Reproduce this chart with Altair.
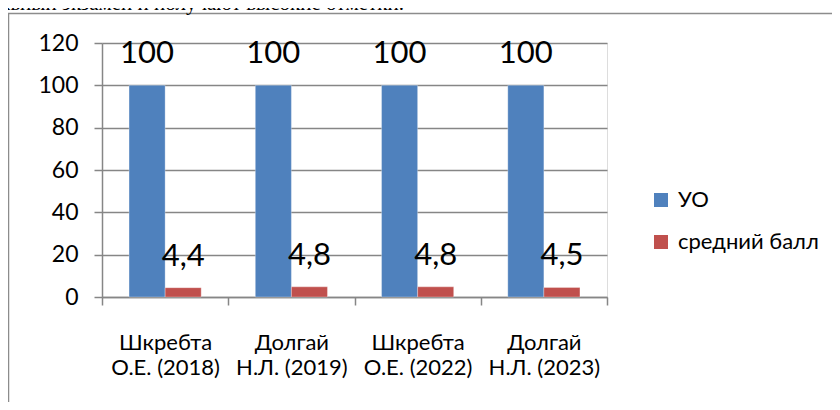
import altair as alt
import pandas as pd

categories = ["Шкребта\nО.Е. (2018)", "Долгай\nН.Л. (2019)", "Шкребта\nО.Е. (2022)", "Долгай\nН.Л. (2023)"]
series = ["УО", "средний балл"]
uo_values = [100, 100, 100, 100]
avg_values = [4.4, 4.8, 4.8, 4.5]
y_ticks = [0, 20, 40, 60, 80, 100, 120]
colors = ["#4F81BD", "#C0504D"]
header_text = "льный экзамен и получают высокие отметки."

rows = []
for c, u, a in zip(categories, uo_values, avg_values):
    rows.append({"category": c, "series": series[0], "value": u, "label": str(u).replace(".", ",")})
    rows.append({"category": c, "series": series[1], "value": a, "label": str(a).replace(".", ",")})
df = pd.DataFrame(rows)

GRID = "#868686"
FONT = "Lato"

x_enc = alt.X(
    "category:N", sort=categories,
    scale=alt.Scale(paddingInner=0, paddingOuter=0),
    axis=alt.Axis(
        title=None, labelExpr="split(datum.label, '\\n')", tickBand="extent",
        labelAngle=0, domainColor=GRID, tickColor=GRID, tickSize=8, domainWidth=1.5, tickWidth=1.5,
        labelFont=FONT, labelFontSize=22, labelColor="black", labelLineHeight=25,
        labelPadding=27, labelBaseline="top", grid=False,
    ),
)
xoff_enc = alt.XOffset("series:N", sort=series, scale=alt.Scale(paddingInner=0, paddingOuter=0.75))
y_enc = alt.Y(
    "value:Q",
    scale=alt.Scale(domain=[0, 120], nice=False, zero=True),
    axis=alt.Axis(
        title=None, values=y_ticks, grid=True, gridColor=GRID, gridWidth=1.5,
        domainColor=GRID, domainWidth=1.5, tickColor=GRID, tickWidth=1.5, tickSize=8,
        labelFont=FONT, labelFontSize=23, labelColor="black", labelPadding=16,
    ),
)

base = alt.Chart(df)

bars = base.mark_bar(stroke="white", strokeWidth=0.5, strokeOpacity=0.6).encode(
    x=x_enc, xOffset=xoff_enc, y=y_enc,
    color=alt.Color(
        "series:N", sort=series,
        scale=alt.Scale(domain=series, range=colors),
        legend=alt.Legend(
            title=None, orient="none", legendX=548, legendY=146,
            symbolType="square", symbolSize=196, symbolStrokeWidth=0,
            labelFont=FONT, labelFontSize=22, labelColor="black",
            rowPadding=20, labelOffset=6, padding=0,
        ),
    ),
)

labels = base.mark_text(dy=-22, baseline="alphabetic", align="center", font=FONT, fontSize=31, color="black").encode(
    x=alt.X("category:N", sort=categories), xOffset=alt.XOffset("series:N", sort=series), y="value:Q",
    text="label:N",
)

deco = pd.DataFrame({"t": [header_text]})
frame = alt.Chart(deco).mark_rect(fillOpacity=0, stroke="#8C8C8C", strokeWidth=1.5).encode(
    x=alt.value(-93.5), x2=alt.value(900), y=alt.value(-29.5), y2=alt.value(600),
)
header = alt.Chart(deco).mark_text(
    align="left", baseline="alphabetic", font="Liberation Serif", fontSize=21, color="black"
).encode(
    x=alt.value(-102), y=alt.value(-33), text="t:N",
)

chart = alt.layer(frame, header, bars, labels).properties(
    width=505, height=254,
    autosize=alt.AutoSizeParams(type="none"),
    padding={"left": 94, "top": 35, "right": 225, "bottom": 105},
).configure_view(strokeOpacity=0).configure(background="white")

chart.save("out.html", embed_options={"renderer": "svg", "actions": False})
